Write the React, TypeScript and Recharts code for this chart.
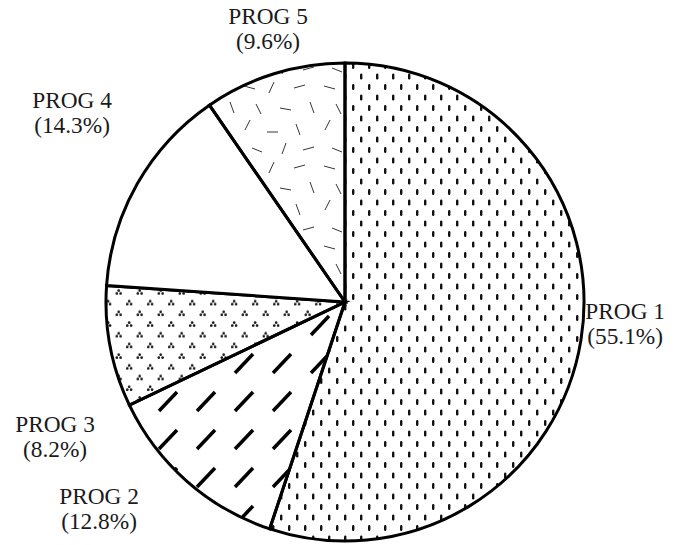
import { PieChart, Pie, Cell } from 'recharts';

const programs = ['PROG 1', 'PROG 2', 'PROG 3', 'PROG 4', 'PROG 5'];
const shares = [55.1, 12.8, 8.2, 14.3, 9.6];

const fills = ['url(#dots)', 'url(#slashes)', 'url(#triads)', '#ffffff', 'url(#straws)'];
// label anchor (first line baseline) relative to the pie centre, in radii
const labelAt = [
  [1.172, 0.071],
  [-1.029, 0.845],
  [-1.213, 0.544],
  [-1.142, -0.812],
  [-0.322, -1.163],
];

const data = programs.map((name, i) => ({ name, value: shares[i] }));

const SliceLabel = ({ cx, cy, outerRadius, index }: any) => {
  const [kx, ky] = labelAt[index];
  const x = cx + kx * outerRadius;
  const y = cy + ky * outerRadius;
  return (
    <text transform={`translate(${x},${y}) scale(1.06,1.06)`} textAnchor="middle" fill="#1a1a1a"
      style={{ fontFamily: '"Liberation Serif", serif', fontSize: 22 }}>
      <tspan x={0} y={0}>{programs[index]}</tspan>
      <tspan x={0} y={23.5}>({shares[index].toFixed(1)}%)</tspan>
    </text>
  );
};

export default function App() {
  return (
    <div style={{ position: 'absolute', left: 0, top: 0, background: '#fff' }}>
      <PieChart width={674} height={545} margin={{ top: 0, right: 0, bottom: 0, left: 0 }}>
        <defs>
          <pattern id="dots" width={16} height={21} patternUnits="userSpaceOnUse">
            <rect x={0} y={0} width={2.4} height={6} rx={1.2} fill="#111" />
            <rect x={8} y={10.5} width={2.4} height={6} rx={1.2} fill="#111" />
          </pattern>
          <pattern id="slashes" width={38} height={38} patternUnits="userSpaceOnUse">
            <line x1={7} y1={31} x2={25} y2={12} stroke="#000" strokeWidth={3.5} />
          </pattern>
          <pattern id="triads" width={21} height={21.4} patternUnits="userSpaceOnUse">
            <circle cx={3.2} cy={1.6} r={1.35} fill="#1a1a1a" />
            <circle cx={1.3} cy={4.6} r={1.35} fill="#1a1a1a" />
            <circle cx={5.1} cy={4.6} r={1.35} fill="#1a1a1a" />
            <circle cx={13.7} cy={12.3} r={1.35} fill="#1a1a1a" />
            <circle cx={11.8} cy={15.3} r={1.35} fill="#1a1a1a" />
            <circle cx={15.6} cy={15.3} r={1.35} fill="#1a1a1a" />
          </pattern>
          <pattern id="straws" width={80} height={80} patternUnits="userSpaceOnUse">
            <g stroke="#333" strokeWidth={1}>
              <line x1={4} y1={6} x2={15} y2={9} />
              <line x1={34} y1={2} x2={29} y2={13} />
              <line x1={54} y1={8} x2={65} y2={5} />
              <line x1={16} y1={24} x2={21} y2={34} />
              <line x1={40} y1={28} x2={51} y2={30} />
              <line x1={70} y1={22} x2={74} y2={33} />
              <line x1={5} y1={50} x2={10} y2={40} />
              <line x1={27} y1={52} x2={38} y2={52} />
              <line x1={56} y1={44} x2={60} y2={55} />
              <line x1={12} y1={68} x2={22} y2={72} />
              <line x1={42} y1={74} x2={46} y2={63} />
              <line x1={63} y1={70} x2={74} y2={67} />
            </g>
          </pattern>
        </defs>
        <Pie
          data={data}
          dataKey="value"
          nameKey="name"
          cx={345}
          cy={302}
          outerRadius={239}
          startAngle={90}
          endAngle={-270}
          stroke="#000"
          strokeWidth={3}
          label={SliceLabel}
          labelLine={false}
          isAnimationActive={false}
        >
          {data.map((d, i) => (
            <Cell key={d.name} fill={fills[i]} />
          ))}
        </Pie>
      </PieChart>
    </div>
  );
}
